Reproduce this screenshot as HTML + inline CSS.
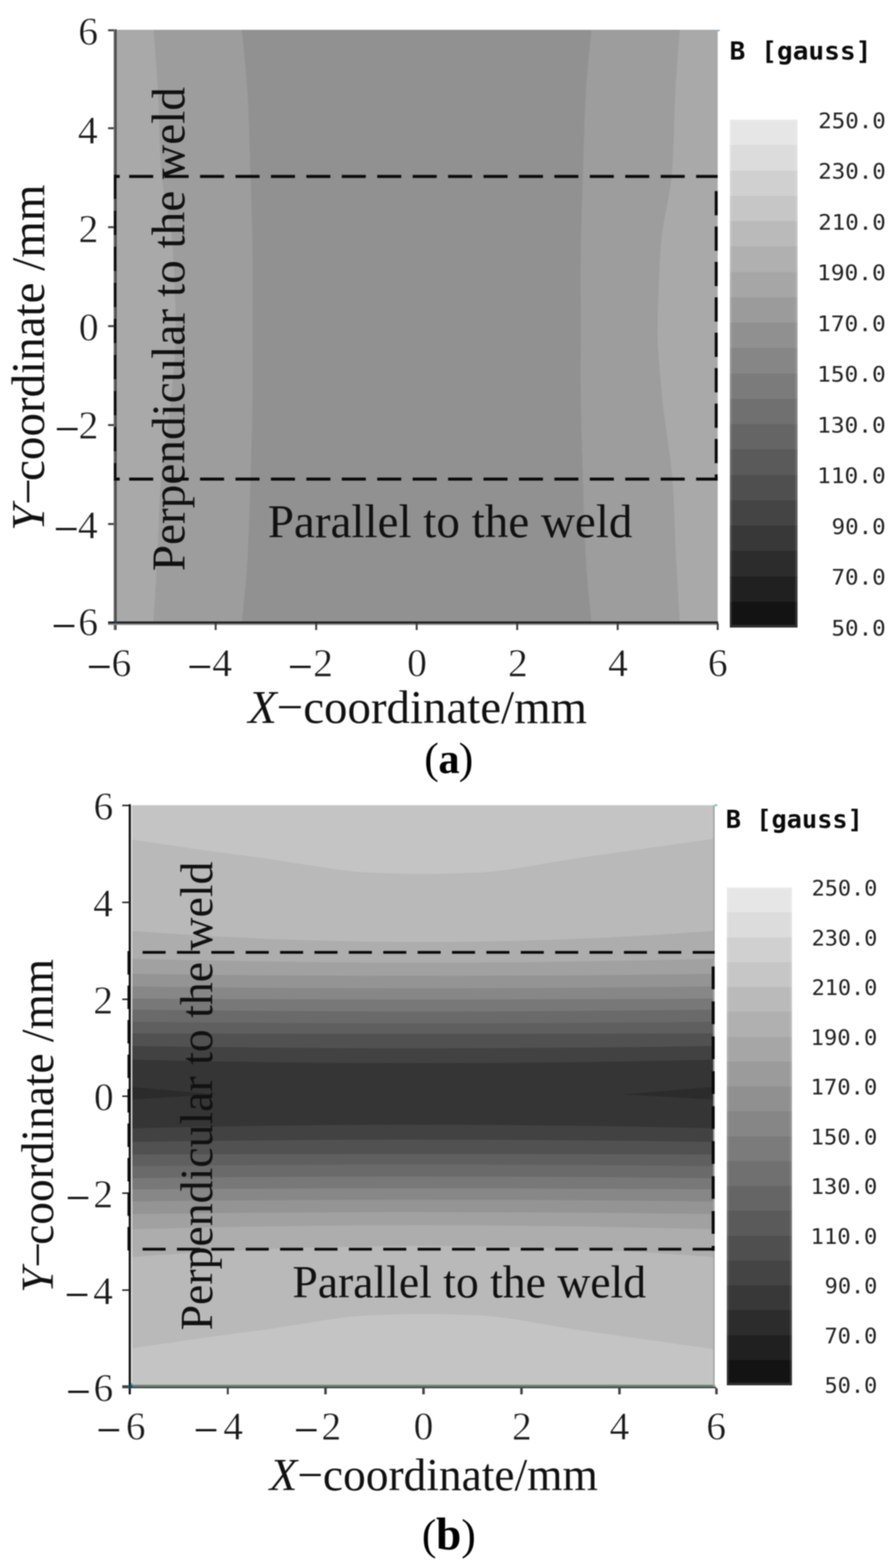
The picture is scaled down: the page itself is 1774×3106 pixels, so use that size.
<!DOCTYPE html>
<html lang="en"><head><meta charset="utf-8"><title>Magnetic flux density distribution</title>
<style>html,body{margin:0;padding:0;background:#fff}body{width:1774px;height:3106px;overflow:hidden}svg{display:block}</style>
</head><body>
<svg width="1774" height="3106" viewBox="0 0 1774 3106" role="img" aria-label="Magnetic flux density maps (a) and (b)">
<defs><filter id="soft" filterUnits="userSpaceOnUse" x="0" y="0" width="1774" height="3106" color-interpolation-filters="sRGB"><feGaussianBlur stdDeviation="1.0"/></filter></defs>
<rect width="1774" height="3106" fill="#fff"/>
<g filter="url(#soft)">
<rect width="1774" height="3106" fill="#fff"/>
<rect x="228" y="59" width="1193" height="1174" fill="#a9a9a9"/>
<path d="M1346,59 C1344.5,79.8 1339.7,136.2 1337.0,184.0 C1334.3,231.8 1334.5,298.3 1330.0,346.0 C1325.5,393.7 1314.5,427.7 1310.0,470.0 C1305.5,512.3 1304.3,570.7 1303.0,600.0 C1301.7,629.3 1302.0,630.7 1302.0,646.0 C1302.0,661.3 1301.2,665.5 1303.0,692.0 C1304.8,718.5 1308.3,762.7 1313.0,805.0 C1317.7,847.3 1326.8,898.0 1331.0,946.0 C1335.2,994.0 1335.5,1045.2 1338.0,1093.0 C1340.5,1140.8 1344.7,1209.7 1346.0,1233.0 L304,1233 C305.3,1209.7 309.5,1140.8 312.0,1093.0 C314.5,1045.2 314.8,994.0 319.0,946.0 C323.2,898.0 332.3,847.3 337.0,805.0 C341.7,762.7 345.2,718.5 347.0,692.0 C348.8,665.5 348.0,661.3 348.0,646.0 C348.0,630.7 348.3,629.3 347.0,600.0 C345.7,570.7 344.5,512.3 340.0,470.0 C335.5,427.7 324.5,393.7 320.0,346.0 C315.5,298.3 315.7,231.8 313.0,184.0 C310.3,136.2 305.5,79.8 304.0,59.0 Z" fill="#9d9d9d"/>
<path d="M1171,59 C1169.2,79.8 1162.8,136.2 1160.0,184.0 C1157.2,231.8 1155.7,293.3 1154.0,346.0 C1152.3,398.7 1150.7,450.0 1150.0,500.0 C1149.3,550.0 1150.0,597.3 1150.0,646.0 C1150.0,694.7 1149.3,742.0 1150.0,792.0 C1150.7,842.0 1152.3,893.3 1154.0,946.0 C1155.7,998.7 1157.2,1060.2 1160.0,1108.0 C1162.8,1155.8 1169.2,1212.2 1171.0,1233.0 L479,1233 C480.8,1212.2 487.2,1155.8 490.0,1108.0 C492.8,1060.2 494.3,998.7 496.0,946.0 C497.7,893.3 499.3,842.0 500.0,792.0 C500.7,742.0 500.0,694.7 500.0,646.0 C500.0,597.3 500.7,550.0 500.0,500.0 C499.3,450.0 497.7,398.7 496.0,346.0 C494.3,293.3 492.8,231.8 490.0,184.0 C487.2,136.2 480.8,79.8 479.0,59.0 Z" fill="#919191"/>
<g shape-rendering="crispEdges">
<rect x="224.5" y="58" width="3.2" height="1190.3" fill="#6b6b6b"/>
<rect x="227.7" y="58" width="3.3" height="1190.3" fill="#484848"/>
<rect x="214" y="1231.4" width="1208" height="3.6" fill="#222"/>
<rect x="214" y="1235" width="1208" height="2.8" fill="#888"/>
<rect x="214" y="58" width="11" height="4" fill="#444"/>
<rect x="214" y="252" width="11" height="4" fill="#444"/>
<rect x="214" y="448" width="11" height="4" fill="#444"/>
<rect x="214" y="644" width="11" height="4" fill="#444"/>
<rect x="214" y="840" width="11" height="4" fill="#444"/>
<rect x="214" y="1036" width="11" height="4" fill="#444"/>
<rect x="425" y="1235" width="4" height="13.3" fill="#444"/>
<rect x="624" y="1235" width="4" height="13.3" fill="#444"/>
<rect x="823" y="1235" width="4" height="13.3" fill="#444"/>
<rect x="1022" y="1235" width="4" height="13.3" fill="#444"/>
<rect x="1221" y="1235" width="4" height="13.3" fill="#444"/>
<rect x="1419" y="1235" width="4" height="13.3" fill="#444"/>
<rect x="227.8" y="1228" width="3.2" height="7" fill="#0a4a7a"/>
<rect x="1421" y="58.5" width="4" height="3.5" fill="#6ab8e0"/>
</g>
<g stroke="#0a0a0a" stroke-width="5.8" fill="none">
<line x1="255.8" y1="349.5" x2="1421" y2="349.5" stroke-dasharray="47.6 22.55"/>
<line x1="255.8" y1="949" x2="1421" y2="949" stroke-dasharray="47.6 22.55"/>
<line x1="227.9" y1="346" x2="227.9" y2="952" stroke-dasharray="48 23.4" stroke-width="4.6"/>
<path d="M226,349.5 H237 M226,949 H237"/>
<line x1="1418" y1="378.5" x2="1418" y2="952" stroke-dasharray="48 22.15" stroke-width="5.8"/>
</g>
<text y="87.80" font-family="'Liberation Serif','DejaVu Serif',serif" font-size="78.5" fill="#1a1a1a" stroke="#fff" stroke-width="0.8"><tspan x="155.11">6</tspan></text>
<text y="284.30" font-family="'Liberation Serif','DejaVu Serif',serif" font-size="78.5" fill="#1a1a1a" stroke="#fff" stroke-width="0.8"><tspan x="154.32">4</tspan></text>
<text y="478.60" font-family="'Liberation Serif','DejaVu Serif',serif" font-size="78.5" fill="#1a1a1a" stroke="#fff" stroke-width="0.8"><tspan x="155.46">2</tspan></text>
<text y="673.50" font-family="'Liberation Serif','DejaVu Serif',serif" font-size="78.5" fill="#1a1a1a" stroke="#fff" stroke-width="0.8"><tspan x="155.89">0</tspan></text>
<text y="870.40" font-family="'Liberation Serif','DejaVu Serif',serif" font-size="78.5" fill="#1a1a1a" stroke="#fff" stroke-width="0.8"><tspan x="113.43" y="868.20" stroke="#111" stroke-width="0.7" fill="#111">–</tspan><tspan x="155.46">2</tspan></text>
<text y="1066.00" font-family="'Liberation Serif','DejaVu Serif',serif" font-size="78.5" fill="#1a1a1a" stroke="#fff" stroke-width="0.8"><tspan x="111.38" y="1066.40" stroke="#111" stroke-width="0.7" fill="#111">–</tspan><tspan x="154.32">4</tspan></text>
<text y="1264.30" font-family="'Liberation Serif','DejaVu Serif',serif" font-size="78.5" fill="#1a1a1a" stroke="#fff" stroke-width="0.8"><tspan x="107.33" y="1258.00" stroke="#111" stroke-width="0.7" fill="#111">–</tspan><tspan x="155.11">6</tspan></text>
<text y="1339.00" font-family="'Liberation Serif','DejaVu Serif',serif" font-size="78.5" fill="#1a1a1a" stroke="#fff" stroke-width="0.8"><tspan x="176.97" stroke="#111" stroke-width="0.7" fill="#111">–</tspan><tspan x="220.78">6</tspan></text>
<text y="1339.00" font-family="'Liberation Serif','DejaVu Serif',serif" font-size="78.5" fill="#1a1a1a" stroke="#fff" stroke-width="0.8"><tspan x="375.98" stroke="#111" stroke-width="0.7" fill="#111">–</tspan><tspan x="420.18">4</tspan></text>
<text y="1339.00" font-family="'Liberation Serif','DejaVu Serif',serif" font-size="78.5" fill="#1a1a1a" stroke="#fff" stroke-width="0.8"><tspan x="574.98" stroke="#111" stroke-width="0.7" fill="#111">–</tspan><tspan x="619.96">2</tspan></text>
<text y="1339.00" font-family="'Liberation Serif','DejaVu Serif',serif" font-size="78.5" fill="#1a1a1a" stroke="#fff" stroke-width="0.8"><tspan x="805.88">0</tspan></text>
<text y="1339.00" font-family="'Liberation Serif','DejaVu Serif',serif" font-size="78.5" fill="#1a1a1a" stroke="#fff" stroke-width="0.8"><tspan x="1005.66">2</tspan></text>
<text y="1339.00" font-family="'Liberation Serif','DejaVu Serif',serif" font-size="78.5" fill="#1a1a1a" stroke="#fff" stroke-width="0.8"><tspan x="1203.88">4</tspan></text>
<text y="1339.00" font-family="'Liberation Serif','DejaVu Serif',serif" font-size="78.5" fill="#1a1a1a" stroke="#fff" stroke-width="0.8"><tspan x="1401.48">6</tspan></text>
<text transform="translate(530.20,1063.60) scale(0.9947,1)" font-family="'Liberation Serif','DejaVu Serif',serif" font-size="93.7" fill="#111" xml:space="preserve">Parallel to the weld</text>
<text transform="translate(365.00,1131.51) rotate(-90) scale(0.9990,1)" font-family="'Liberation Serif','DejaVu Serif',serif" font-size="93.7" fill="#111" xml:space="preserve">Perpendicular to the weld</text>
<text transform="translate(491.38,1432.00) scale(0.9906,1)" font-family="'Liberation Serif','DejaVu Serif',serif" font-size="93.7" fill="#111" xml:space="preserve"><tspan font-style="italic">X</tspan>−coordinate/mm</text>
<text transform="translate(87.20,1051.49) rotate(-90) scale(0.9942,1)" font-family="'Liberation Serif','DejaVu Serif',serif" font-size="93.7" fill="#111" xml:space="preserve"><tspan font-style="italic">Y</tspan>−<tspan dx="-0.06em">c</tspan>oordinate /mm</text>
<text y="1531.00" font-family="'Liberation Serif','DejaVu Serif',serif" font-size="86.5" fill="#000"><tspan x="840.09">(</tspan><tspan x="868.08" font-weight="bold" font-size="84">a</tspan><tspan x="908.16">)</tspan></text>
<g shape-rendering="crispEdges">
<rect x="1445" y="237.00" width="133.5" height="50.85" fill="#e6e6e6"/>
<rect x="1445" y="287.25" width="133.5" height="50.85" fill="#dcdcdc"/>
<rect x="1445" y="337.50" width="133.5" height="50.85" fill="#d0d0d0"/>
<rect x="1445" y="387.75" width="133.5" height="50.85" fill="#c6c6c6"/>
<rect x="1445" y="438.00" width="133.5" height="50.85" fill="#bababa"/>
<rect x="1445" y="488.25" width="133.5" height="50.85" fill="#b0b0b0"/>
<rect x="1445" y="538.50" width="133.5" height="50.85" fill="#a6a6a6"/>
<rect x="1445" y="588.75" width="133.5" height="50.85" fill="#9b9b9b"/>
<rect x="1445" y="639.00" width="133.5" height="50.85" fill="#909090"/>
<rect x="1445" y="689.25" width="133.5" height="50.85" fill="#868686"/>
<rect x="1445" y="739.50" width="133.5" height="50.85" fill="#7b7b7b"/>
<rect x="1445" y="789.75" width="133.5" height="50.85" fill="#707070"/>
<rect x="1445" y="840.00" width="133.5" height="50.85" fill="#656565"/>
<rect x="1445" y="890.25" width="133.5" height="50.85" fill="#5a5a5a"/>
<rect x="1445" y="940.50" width="133.5" height="50.85" fill="#4f4f4f"/>
<rect x="1445" y="990.75" width="133.5" height="50.85" fill="#444444"/>
<rect x="1445" y="1041.00" width="133.5" height="50.85" fill="#383838"/>
<rect x="1445" y="1091.25" width="133.5" height="50.85" fill="#2c2c2c"/>
<rect x="1445" y="1141.50" width="133.5" height="50.85" fill="#202020"/>
<rect x="1445" y="1191.75" width="133.5" height="50.85" fill="#131313"/>
</g>
<rect x="1447" y="239" width="129.5" height="1001" fill="none" stroke="#fff" stroke-opacity="0.13" stroke-width="4"/>
<text transform="translate(1619.99,253.50) scale(1.0213,1)" font-family="'DejaVu Sans Mono','Liberation Mono',monospace" font-size="43.5" fill="#222" xml:space="preserve">250.0</text>
<text transform="translate(1619.99,354.00) scale(1.0213,1)" font-family="'DejaVu Sans Mono','Liberation Mono',monospace" font-size="43.5" fill="#222" xml:space="preserve">230.0</text>
<text transform="translate(1619.99,454.50) scale(1.0213,1)" font-family="'DejaVu Sans Mono','Liberation Mono',monospace" font-size="43.5" fill="#222" xml:space="preserve">210.0</text>
<text transform="translate(1617.67,555.00) scale(1.0394,1)" font-family="'DejaVu Sans Mono','Liberation Mono',monospace" font-size="43.5" fill="#222" xml:space="preserve">190.0</text>
<text transform="translate(1617.67,655.50) scale(1.0394,1)" font-family="'DejaVu Sans Mono','Liberation Mono',monospace" font-size="43.5" fill="#222" xml:space="preserve">170.0</text>
<text transform="translate(1617.67,756.00) scale(1.0394,1)" font-family="'DejaVu Sans Mono','Liberation Mono',monospace" font-size="43.5" fill="#222" xml:space="preserve">150.0</text>
<text transform="translate(1617.67,856.50) scale(1.0394,1)" font-family="'DejaVu Sans Mono','Liberation Mono',monospace" font-size="43.5" fill="#222" xml:space="preserve">130.0</text>
<text transform="translate(1617.67,957.00) scale(1.0394,1)" font-family="'DejaVu Sans Mono','Liberation Mono',monospace" font-size="43.5" fill="#222" xml:space="preserve">110.0</text>
<text transform="translate(1646.61,1057.50) scale(1.0216,1)" font-family="'DejaVu Sans Mono','Liberation Mono',monospace" font-size="43.5" fill="#222" xml:space="preserve">90.0</text>
<text transform="translate(1646.16,1158.00) scale(1.0261,1)" font-family="'DejaVu Sans Mono','Liberation Mono',monospace" font-size="43.5" fill="#222" xml:space="preserve">70.0</text>
<text transform="translate(1646.16,1258.50) scale(1.0261,1)" font-family="'DejaVu Sans Mono','Liberation Mono',monospace" font-size="43.5" fill="#222" xml:space="preserve">50.0</text>
<text transform="translate(1444.49,117.60) scale(1.0373,1)" font-family="'DejaVu Sans Mono','Liberation Mono',monospace" font-size="50" font-weight="bold" fill="#0a0a0a" xml:space="preserve">B [gauss]</text>
<rect x="260" y="1595" width="1152.5" height="1150" fill="#c4c4c4"/>
<path d="M260,1663 C283.3,1666.4 354.5,1677.1 400.0,1683.5 C445.5,1689.9 486.3,1694.8 533.0,1701.5 C579.7,1708.2 642.2,1719.3 680.0,1724.0 C717.8,1728.7 733.7,1728.3 760.0,1729.5 C786.3,1730.7 812.0,1731.0 838.0,1731.0 C864.0,1731.0 889.7,1730.7 916.0,1729.5 C942.3,1728.3 958.2,1728.9 996.0,1724.0 C1033.8,1719.1 1096.3,1707.2 1143.0,1700.0 C1189.7,1692.8 1231.1,1687.4 1276.0,1681.0 C1320.9,1674.6 1389.8,1664.8 1412.5,1661.5 L1412.5,2672.5 C1389.8,2669.2 1320.9,2659.4 1276.0,2653.0 C1231.1,2646.6 1189.7,2641.2 1143.0,2634.0 C1096.3,2626.8 1033.8,2614.9 996.0,2610.0 C958.2,2605.1 942.3,2605.7 916.0,2604.5 C889.7,2603.3 864.0,2603.0 838.0,2603.0 C812.0,2603.0 786.3,2603.3 760.0,2604.5 C733.7,2605.7 717.8,2605.3 680.0,2610.0 C642.2,2614.7 579.7,2625.8 533.0,2632.5 C486.3,2639.2 445.5,2644.1 400.0,2650.5 C354.5,2656.9 283.3,2667.6 260.0,2671.0 Z" fill="#b9b9b9"/>
<path d="M260,1844 Q837.0,1888.0 1412.5,1844 L1412.5,2490 Q837.0,2446.0 260,2490 Z" fill="#adadad"/>
<path d="M260,1899 Q837.0,1915.0 1412.5,1899 L1412.5,2435 Q837.0,2419.0 260,2435 Z" fill="#a1a1a1"/>
<path d="M260,1929 Q837.0,1937.0 1412.5,1929 L1412.5,2405 Q837.0,2397.0 260,2405 Z" fill="#949494"/>
<path d="M260,1954 Q837.0,1961.2 1412.5,1954 L1412.5,2380 Q837.0,2372.8 260,2380 Z" fill="#878787"/>
<path d="M260,1978 Q837.0,1982.0 1412.5,1978 L1412.5,2356 Q837.0,2352.0 260,2356 Z" fill="#787878"/>
<path d="M260,2000 Q837.0,2007.0 1412.5,2000 L1412.5,2334 Q837.0,2327.0 260,2334 Z" fill="#6a6a6a"/>
<path d="M260,2024 Q837.0,2030.0 1412.5,2024 L1412.5,2310 Q837.0,2304.0 260,2310 Z" fill="#5f5f5f"/>
<path d="M260,2047 Q837.0,2049.0 1412.5,2047 L1412.5,2287 Q837.0,2285.0 260,2287 Z" fill="#515151"/>
<path d="M260,2072 Q837.0,2081.0 1412.5,2072 L1412.5,2262 Q837.0,2253.0 260,2262 Z" fill="#424242"/>
<path d="M260,2099 Q837.0,2113.0 1412.5,2099 L1412.5,2235 Q837.0,2221.0 260,2235 Z" fill="#353535"/>
<path d="M260,2153 L430,2168 L260,2178 Z" fill="#2b2b2b"/>
<path d="M1412.5,2153 L1236,2168 L1412.5,2178 Z" fill="#2b2b2b"/>
<g shape-rendering="crispEdges">
<rect x="258.5" y="1595" width="3.5" height="1148.4" fill="#dcdcdc"/>
<rect x="253.6" y="1593" width="1.5" height="1168.5" fill="#d0d0d0"/>
<rect x="255.1" y="1593" width="3.4" height="1168.5" fill="#111"/>
<rect x="258.5" y="2743.4" width="1157.5" height="3.7" fill="#6e8474"/>
<rect x="242" y="2747.1" width="1176" height="2.9" fill="#454545"/>
<rect x="242" y="2743.7" width="13.1" height="3.4" fill="#454545"/>
<rect x="242" y="1593.5" width="13.5" height="3" fill="#222"/>
<rect x="242" y="1785.5" width="13.5" height="3" fill="#222"/>
<rect x="242" y="1977.5" width="13.5" height="3" fill="#222"/>
<rect x="242" y="2169.5" width="13.5" height="3" fill="#222"/>
<rect x="242" y="2361.5" width="13.5" height="3" fill="#222"/>
<rect x="242" y="2553.5" width="13.5" height="3" fill="#222"/>
<rect x="448.5" y="2750" width="4.5" height="12" fill="#444"/>
<rect x="642" y="2750" width="4.5" height="12" fill="#444"/>
<rect x="836" y="2750" width="4.5" height="12" fill="#444"/>
<rect x="1030" y="2750" width="4.5" height="12" fill="#444"/>
<rect x="1224" y="2750" width="4.5" height="12" fill="#444"/>
<rect x="1416" y="2750" width="4.5" height="12" fill="#444"/>
<rect x="1412" y="1595" width="3" height="1152" fill="#a0a6a1"/>
<rect x="1415" y="1592.5" width="4.5" height="4" fill="#7cc0e4"/>
<rect x="255" y="2743.5" width="7" height="6" fill="#0b4a6f"/>
<rect x="258.6" y="2740.3" width="3.4" height="3.2" fill="#4a9fd0"/>
</g>
<g stroke="#0a0a0a" stroke-width="5.5" fill="none">
<line x1="282.3" y1="1886.5" x2="1415" y2="1886.5" stroke-dasharray="45.6 22.47"/>
<line x1="282.3" y1="2474.5" x2="1415" y2="2474.5" stroke-dasharray="45.6 22.47"/>
<line x1="255.2" y1="1884" x2="255.2" y2="2477.5" stroke-dasharray="46.5 21.8"/>
<line x1="1412" y1="1914.5" x2="1412" y2="2477.5" stroke-dasharray="45 24.2" stroke-width="6"/>
</g>
<text y="1622.70" font-family="'Liberation Serif','DejaVu Serif',serif" font-size="78" fill="#1a1a1a" stroke="#fff" stroke-width="0.8"><tspan x="185.34">6</tspan></text>
<text y="1814.70" font-family="'Liberation Serif','DejaVu Serif',serif" font-size="78" fill="#1a1a1a" stroke="#fff" stroke-width="0.8"><tspan x="184.56">4</tspan></text>
<text y="2006.70" font-family="'Liberation Serif','DejaVu Serif',serif" font-size="78" fill="#1a1a1a" stroke="#fff" stroke-width="0.8"><tspan x="184.68">2</tspan></text>
<text y="2198.70" font-family="'Liberation Serif','DejaVu Serif',serif" font-size="78" fill="#1a1a1a" stroke="#fff" stroke-width="0.8"><tspan x="186.12">0</tspan></text>
<text y="2390.70" font-family="'Liberation Serif','DejaVu Serif',serif" font-size="78" fill="#1a1a1a" stroke="#fff" stroke-width="0.8"><tspan x="135.05" stroke="#111" stroke-width="0.7" fill="#111">–</tspan><tspan x="184.68">2</tspan></text>
<text y="2582.70" font-family="'Liberation Serif','DejaVu Serif',serif" font-size="78" fill="#1a1a1a" stroke="#fff" stroke-width="0.8"><tspan x="133.37" stroke="#111" stroke-width="0.7" fill="#111">–</tspan><tspan x="184.56">4</tspan></text>
<text y="2774.70" font-family="'Liberation Serif','DejaVu Serif',serif" font-size="78" fill="#1a1a1a" stroke="#fff" stroke-width="0.8"><tspan x="135.71" stroke="#111" stroke-width="0.7" fill="#111">–</tspan><tspan x="185.34">6</tspan></text>
<text y="2851.30" font-family="'Liberation Serif','DejaVu Serif',serif" font-size="78" fill="#1a1a1a" stroke="#fff" stroke-width="0.8"><tspan x="196.10" stroke="#111" stroke-width="0.7" fill="#111">–</tspan><tspan x="249.31">6</tspan></text>
<text y="2851.30" font-family="'Liberation Serif','DejaVu Serif',serif" font-size="78" fill="#1a1a1a" stroke="#fff" stroke-width="0.8"><tspan x="388.60" stroke="#111" stroke-width="0.7" fill="#111">–</tspan><tspan x="442.20">4</tspan></text>
<text y="2851.30" font-family="'Liberation Serif','DejaVu Serif',serif" font-size="78" fill="#1a1a1a" stroke="#fff" stroke-width="0.8"><tspan x="586.95" stroke="#111" stroke-width="0.7" fill="#111">–</tspan><tspan x="636.48">2</tspan></text>
<text y="2851.30" font-family="'Liberation Serif','DejaVu Serif',serif" font-size="78" fill="#1a1a1a" stroke="#fff" stroke-width="0.8"><tspan x="819.00">0</tspan></text>
<text y="2851.30" font-family="'Liberation Serif','DejaVu Serif',serif" font-size="78" fill="#1a1a1a" stroke="#fff" stroke-width="0.8"><tspan x="1013.78">2</tspan></text>
<text y="2851.30" font-family="'Liberation Serif','DejaVu Serif',serif" font-size="78" fill="#1a1a1a" stroke="#fff" stroke-width="0.8"><tspan x="1207.00">4</tspan></text>
<text y="2851.30" font-family="'Liberation Serif','DejaVu Serif',serif" font-size="78" fill="#1a1a1a" stroke="#fff" stroke-width="0.8"><tspan x="1398.61">6</tspan></text>
<text transform="translate(578.89,2570.30) scale(0.9933,1)" font-family="'Liberation Serif','DejaVu Serif',serif" font-size="91" fill="#111" xml:space="preserve">Parallel to the weld</text>
<text transform="translate(420.20,2635.32) rotate(-90) scale(0.9962,1)" font-family="'Liberation Serif','DejaVu Serif',serif" font-size="91" fill="#111" xml:space="preserve">Perpendicular to the weld</text>
<text transform="translate(533.70,2951.50) scale(0.9881,1)" font-family="'Liberation Serif','DejaVu Serif',serif" font-size="91" fill="#111" xml:space="preserve"><tspan font-style="italic">X</tspan>−coordinate/mm</text>
<text transform="translate(105.40,2560.99) rotate(-90) scale(0.9871,1)" font-family="'Liberation Serif','DejaVu Serif',serif" font-size="91" fill="#111" xml:space="preserve"><tspan font-style="italic">Y</tspan>−<tspan dx="-0.06em">c</tspan>oordinate /mm</text>
<text y="3069.00" font-family="'Liberation Serif','DejaVu Serif',serif" font-size="86.5" fill="#000"><tspan x="835.29">(</tspan><tspan x="863.15" font-weight="bold" font-size="90">b</tspan><tspan x="913.26">)</tspan></text>
<g shape-rendering="crispEdges">
<rect x="1439" y="1758.00" width="129" height="49.85" fill="#e6e6e6"/>
<rect x="1439" y="1807.25" width="129" height="49.85" fill="#dcdcdc"/>
<rect x="1439" y="1856.50" width="129" height="49.85" fill="#d0d0d0"/>
<rect x="1439" y="1905.75" width="129" height="49.85" fill="#c6c6c6"/>
<rect x="1439" y="1955.00" width="129" height="49.85" fill="#bababa"/>
<rect x="1439" y="2004.25" width="129" height="49.85" fill="#b0b0b0"/>
<rect x="1439" y="2053.50" width="129" height="49.85" fill="#a6a6a6"/>
<rect x="1439" y="2102.75" width="129" height="49.85" fill="#9b9b9b"/>
<rect x="1439" y="2152.00" width="129" height="49.85" fill="#909090"/>
<rect x="1439" y="2201.25" width="129" height="49.85" fill="#868686"/>
<rect x="1439" y="2250.50" width="129" height="49.85" fill="#7b7b7b"/>
<rect x="1439" y="2299.75" width="129" height="49.85" fill="#707070"/>
<rect x="1439" y="2349.00" width="129" height="49.85" fill="#656565"/>
<rect x="1439" y="2398.25" width="129" height="49.85" fill="#5a5a5a"/>
<rect x="1439" y="2447.50" width="129" height="49.85" fill="#4f4f4f"/>
<rect x="1439" y="2496.75" width="129" height="49.85" fill="#444444"/>
<rect x="1439" y="2546.00" width="129" height="49.85" fill="#383838"/>
<rect x="1439" y="2595.25" width="129" height="49.85" fill="#2c2c2c"/>
<rect x="1439" y="2644.50" width="129" height="49.85" fill="#202020"/>
<rect x="1439" y="2693.75" width="129" height="49.85" fill="#131313"/>
</g>
<rect x="1441" y="1760" width="125" height="981" fill="none" stroke="#fff" stroke-opacity="0.13" stroke-width="4"/>
<text transform="translate(1606.98,1774.00) scale(1.0001,1)" font-family="'DejaVu Sans Mono','Liberation Mono',monospace" font-size="43.2" fill="#222" xml:space="preserve">250.0</text>
<text transform="translate(1606.98,1872.50) scale(1.0001,1)" font-family="'DejaVu Sans Mono','Liberation Mono',monospace" font-size="43.2" fill="#222" xml:space="preserve">230.0</text>
<text transform="translate(1606.98,1971.00) scale(1.0001,1)" font-family="'DejaVu Sans Mono','Liberation Mono',monospace" font-size="43.2" fill="#222" xml:space="preserve">210.0</text>
<text transform="translate(1604.72,2069.50) scale(1.0179,1)" font-family="'DejaVu Sans Mono','Liberation Mono',monospace" font-size="43.2" fill="#222" xml:space="preserve">190.0</text>
<text transform="translate(1604.72,2168.00) scale(1.0179,1)" font-family="'DejaVu Sans Mono','Liberation Mono',monospace" font-size="43.2" fill="#222" xml:space="preserve">170.0</text>
<text transform="translate(1604.72,2266.50) scale(1.0179,1)" font-family="'DejaVu Sans Mono','Liberation Mono',monospace" font-size="43.2" fill="#222" xml:space="preserve">150.0</text>
<text transform="translate(1604.72,2365.00) scale(1.0179,1)" font-family="'DejaVu Sans Mono','Liberation Mono',monospace" font-size="43.2" fill="#222" xml:space="preserve">130.0</text>
<text transform="translate(1604.72,2463.50) scale(1.0179,1)" font-family="'DejaVu Sans Mono','Liberation Mono',monospace" font-size="43.2" fill="#222" xml:space="preserve">110.0</text>
<text transform="translate(1632.87,2562.00) scale(1.0004,1)" font-family="'DejaVu Sans Mono','Liberation Mono',monospace" font-size="43.2" fill="#222" xml:space="preserve">90.0</text>
<text transform="translate(1632.42,2660.50) scale(1.0048,1)" font-family="'DejaVu Sans Mono','Liberation Mono',monospace" font-size="43.2" fill="#222" xml:space="preserve">70.0</text>
<text transform="translate(1632.42,2759.00) scale(1.0048,1)" font-family="'DejaVu Sans Mono','Liberation Mono',monospace" font-size="43.2" fill="#222" xml:space="preserve">50.0</text>
<text transform="translate(1436.99,1640.00) scale(1.0019,1)" font-family="'DejaVu Sans Mono','Liberation Mono',monospace" font-size="50" font-weight="bold" fill="#0a0a0a" xml:space="preserve">B [gauss]</text>
</g>
</svg></body></html>
